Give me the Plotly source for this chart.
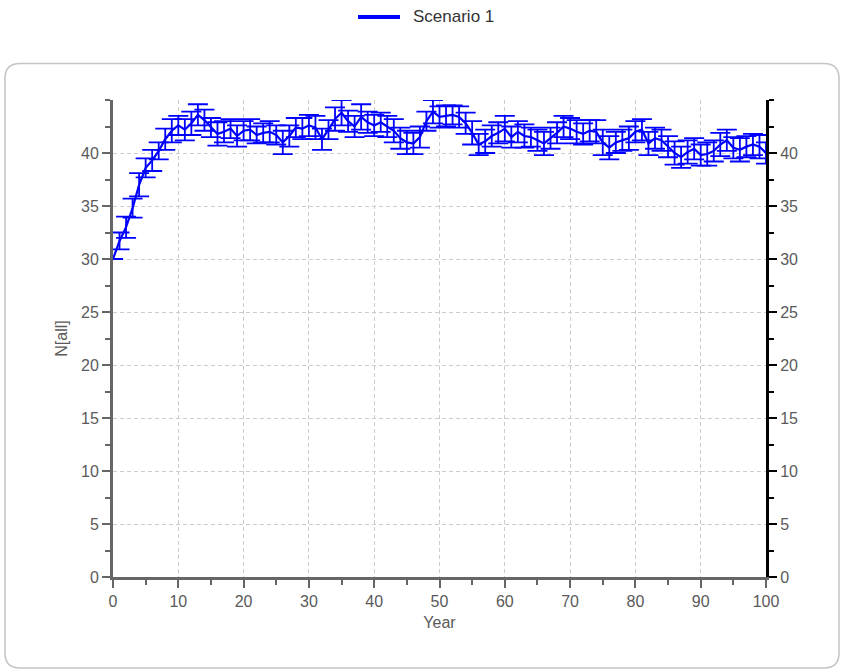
import plotly.graph_objects as go

years = list(range(0, 101))
n_all = [30.0, 31.7, 33.0, 34.8, 37.0, 38.6, 39.3, 40.2, 41.3, 42.1,
         42.6, 42.2, 42.8, 43.6, 43.1, 42.4, 41.8, 42.0, 42.3, 41.6,
         42.1, 42.2, 41.7, 41.9, 42.0, 41.7, 41.0, 41.6, 42.4, 42.3,
         42.6, 42.4, 41.3, 42.2, 43.2, 43.8, 43.0, 42.5, 43.4, 42.9,
         42.6, 42.9, 42.5, 42.1, 41.4, 41.0, 40.9, 41.5, 43.0, 43.9,
         43.4, 43.5, 43.6, 43.4, 42.8, 41.9, 40.8, 41.1, 41.6, 41.9,
         42.3, 41.5, 42.0, 41.6, 41.5, 41.2, 40.9, 41.4, 41.9, 42.5,
         42.3, 42.0, 41.8, 42.1, 42.0, 41.0, 40.5, 41.0, 41.2, 41.4,
         42.0, 42.2, 40.9, 41.4, 41.2, 40.6, 40.0, 39.6, 40.1, 40.4,
         39.8, 39.9, 40.2, 40.8, 41.2, 40.5, 40.3, 40.6, 40.8, 40.6,
         40.0]
n_err = [0.0, 0.8, 1.0, 0.9, 1.1, 0.9, 1.0, 0.8, 1.0, 1.1,
         0.9, 1.0, 1.1, 1.0, 1.0, 0.9, 1.1, 1.0, 0.9, 1.0,
         0.9, 1.0, 0.8, 0.9, 1.0, 0.9, 1.1, 1.0, 0.9, 1.0,
         1.0, 1.1, 1.0, 0.9, 1.1, 1.2, 1.0, 1.0, 1.2, 1.0,
         1.0, 0.9, 1.0, 1.1, 1.0, 1.1, 1.0, 1.0, 0.9, 1.1,
         1.0, 1.0, 0.9, 1.0, 1.0, 1.1, 1.0, 1.1, 1.0, 1.0,
         1.2, 1.0, 1.0, 1.1, 0.9, 1.0, 1.1, 1.0, 1.0, 1.0,
         1.0, 1.1, 1.0, 1.0, 1.1, 1.2, 1.1, 1.0, 1.0, 1.1,
         1.0, 1.0, 1.1, 1.0, 1.0, 1.0, 1.1, 1.0, 1.1, 1.0,
         1.0, 1.1, 1.0, 1.1, 1.0, 1.0, 1.1, 1.0, 1.0, 1.1,
         1.0]
y_tickvals = [0, 5, 10, 15, 20, 25, 30, 35, 40]
series_name = "Scenario 1"

W, H = 841, 670
ML, MR, MT, MB = 113, 75, 100, 93
PW, PH = W - ML - MR, H - MT - MB

def px_x(p):
    return (p - ML) / PW

def px_y(p):
    return (H - MB - p) / PH

font = "Liberation Sans, Arial, sans-serif"
tick_font = dict(family=font, size=16, color="#5a5a5a")

fig = go.Figure()
fig.add_trace(go.Scatter(
    x=years, y=n_all, mode="lines", name=series_name,
    line=dict(color="#0000ff", width=2.2),
    error_y=dict(type="data", array=n_err, visible=True,
                 color="#0000ff", thickness=1.8, width=10),
    showlegend=False,
))
# invisible trace for right axis
fig.add_trace(go.Scatter(x=[0], y=[0], yaxis="y2", mode="markers",
                         marker=dict(opacity=0), showlegend=False,
                         hoverinfo="skip"))

# rounded frame
x0, x1 = px_x(5), px_x(839)
y0, y1 = px_y(668), px_y(63.5)
rx, ry = 15 / PW, 15 / PH
path = (f"M {x0+rx},{y1} L {x1-rx},{y1} Q {x1},{y1} {x1},{y1-ry} "
        f"L {x1},{y0+ry} Q {x1},{y0} {x1-rx},{y0} "
        f"L {x0+rx},{y0} Q {x0},{y0} {x0},{y0+ry} "
        f"L {x0},{y1-ry} Q {x0},{y1} {x0+rx},{y1} Z")
fig.add_shape(type="path", path=path, xref="paper", yref="paper",
              line=dict(color="#c4c4c4", width=1.5), layer="below")

# legend (drawn manually so it does not alter margins)
fig.add_shape(type="line", xref="paper", yref="paper",
              x0=px_x(358), x1=px_x(400), y0=px_y(17), y1=px_y(17),
              line=dict(color="#0000ff", width=4))
fig.add_annotation(x=px_x(411), y=px_y(17), xref="paper", yref="paper",
                   text=series_name, showarrow=False, xanchor="left",
                   yanchor="middle",
                   font=dict(family=font, size=17, color="#333333"))

axis_common = dict(showgrid=True, gridcolor="#cccccc", griddash="4px,3px",
                   gridwidth=1, zeroline=False, ticks="outside",
                   ticklen=8, tickwidth=2, tickfont=tick_font)

fig.update_layout(
    width=W, height=H,
    margin=dict(l=ML, r=MR, t=MT, b=MB, autoexpand=False),
    paper_bgcolor="white", plot_bgcolor="white",
    showlegend=False,
    xaxis=dict(range=[0, 100], dtick=10, tick0=0,
               showline=True, linecolor="#666666", linewidth=3,
               tickcolor="#666666",
               minor=dict(dtick=5, ticklen=5, tickwidth=2,
                          tickcolor="#666666", ticks="outside",
                          showgrid=False),
               title=dict(text="Year", font=dict(family=font, size=16,
                                                color="#5a5a5a"),
                          standoff=8),
               **axis_common),
    yaxis=dict(range=[0, 45], tickmode="array", tickvals=y_tickvals,
               showline=True, linecolor="#666666", linewidth=3,
               tickcolor="#666666",
               minor=dict(dtick=2.5, tick0=0, ticklen=5, tickwidth=2,
                          tickcolor="#666666", ticks="outside",
                          showgrid=False),
               title=dict(text="N[all]", font=dict(family=font, size=16,
                                                  color="#5a5a5a"),
                          standoff=10),
               **axis_common),
    yaxis2=dict(range=[0, 45], tickmode="array", tickvals=y_tickvals,
                overlaying="y",
                side="right", showgrid=False, zeroline=False,
                showline=True, linecolor="#000000", linewidth=3,
                ticks="outside", ticklen=8, tickwidth=2,
                tickcolor="#000000", tickfont=tick_font,
                minor=dict(dtick=2.5, tick0=0, ticklen=5, tickwidth=2,
                           tickcolor="#000000", ticks="outside")),
)

fig.write_html("out.html")
